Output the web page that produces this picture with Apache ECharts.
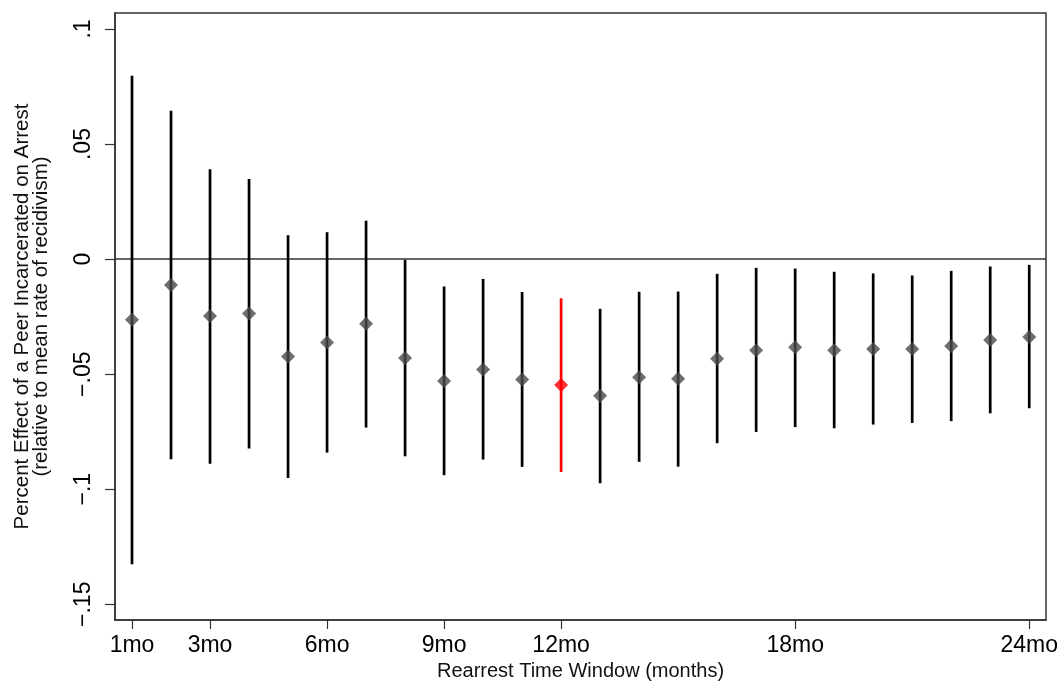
<!DOCTYPE html>
<html>
<head>
<meta charset="utf-8">
<script src="https://cdn.jsdelivr.net/npm/echarts@6/dist/echarts.min.js"></script>
<style>
  html, body { margin: 0; padding: 0; background: #fff; }
  #chart { width: 1062px; height: 682px; }
</style>
</head>
<body>
<div id="chart"></div>
<script>
// Rearrest window in months
const months = [1,2,3,4,5,6,7,8,9,10,11,12,13,14,15,16,17,18,19,20,21,22,23,24];
// Point estimates
const estimate = [-0.0264,-0.0113,-0.0247,-0.0236,-0.0423,-0.0362,-0.0281,-0.0430,-0.0530,-0.0480,-0.0523,-0.0547,
                  -0.0594,-0.0513,-0.0520,-0.0433,-0.0396,-0.0383,-0.0396,-0.0391,-0.0391,-0.0378,-0.0351,-0.0338];
// Confidence interval bounds
const ciLow  = [-0.1326,-0.0870,-0.0889,-0.0823,-0.0951,-0.0841,-0.0732,-0.0857,-0.0939,-0.0871,-0.0903,-0.0925,
                -0.0974,-0.0881,-0.0902,-0.0800,-0.0751,-0.0730,-0.0735,-0.0719,-0.0712,-0.0704,-0.0670,-0.0648];
const ciHigh = [0.0797,0.0645,0.0391,0.0348,0.0104,0.0117,0.0167,-0.0003,-0.0119,-0.0086,-0.0143,-0.0170,
                -0.0216,-0.0142,-0.0141,-0.0064,-0.0038,-0.0041,-0.0055,-0.0062,-0.0071,-0.0051,-0.0032,-0.0025];
// Highlighted window
const highlightMonth = 12;
// Axis ticks
const xTicks = [1,3,6,9,12,18,24];
const yTicks = [-0.15,-0.10,-0.05,0,0.05,0.10];

const BLACK = '#000';
const GREY = '#4a4a4a';
const RED = '#ff0000';
const FONT = '"Liberation Sans", Arial, Helvetica, sans-serif';

function yLabel(v) {
  if (Math.abs(v) < 1e-9) return '0';
  let s = Math.abs(v).toFixed(2).replace(/0+$/, '').replace(/^0/, '');
  return (v < 0 ? '\u2212' : '') + s;
}

const barData = months.map((m, i) => [m, ciLow[i], ciHigh[i]]);
const pointData = months.map((m, i) => ({
  value: [m, estimate[i]],
  itemStyle: { color: m === highlightMonth ? RED : GREY }
}));

const chart = echarts.init(document.getElementById('chart'), null, { renderer: 'canvas' });
chart.setOption({
  animation: false,
  backgroundColor: '#fff',
  grid: {
    left: 115, right: 16, top: 13, bottom: 62,
    containLabel: false, outerBoundsMode: 'none',
    show: true, borderColor: '#333', borderWidth: 1.5, backgroundColor: 'transparent'
  },
  xAxis: {
    type: 'value',
    min: 0.564, max: 24.43,
    name: 'Rearrest Time Window (months)',
    nameLocation: 'middle', nameGap: 40,
    nameTextStyle: { fontFamily: FONT, fontSize: 20, color: '#111' },
    axisLine: { show: true, onZero: false, lineStyle: { color: '#333', width: 1.5 } },
    axisTick: { show: true, length: 9, customValues: xTicks, lineStyle: { color: '#333', width: 1.2 } },
    axisLabel: { customValues: xTicks, formatter: v => v + 'mo', fontFamily: FONT, fontSize: 23, color: BLACK, margin: 14 },
    splitLine: { show: false }
  },
  yAxis: {
    type: 'value',
    min: -0.15683, max: 0.10696,
    name: 'Percent Effect of a Peer Incarcerated on Arrest\n(relative to mean rate of recidivism)',
    nameLocation: 'middle', nameGap: 64, nameRotate: 90,
    nameTextStyle: { fontFamily: FONT, fontSize: 20.5, color: '#111', lineHeight: 19, align: 'center' },
    axisLine: { show: true, onZero: false, lineStyle: { color: '#333', width: 1.5 } },
    axisTick: { show: true, length: 10, customValues: yTicks, lineStyle: { color: '#333', width: 1.2 } },
    axisLabel: { customValues: yTicks, formatter: yLabel, rotate: 90, fontFamily: FONT, fontSize: 23, color: BLACK, margin: 20 },
    splitLine: { show: false }
  },
  series: [
    {
      type: 'custom',
      data: barData,
      z: 2,
      renderItem: function (params, api) {
        const m = api.value(0);
        const p1 = api.coord([m, api.value(1)]);
        const p2 = api.coord([m, api.value(2)]);
        return {
          type: 'line',
          shape: { x1: p1[0], y1: p1[1], x2: p2[0], y2: p2[1] },
          style: { stroke: m === highlightMonth ? RED : BLACK, lineWidth: 2.7 }
        };
      },
      encode: { x: 0, y: [1, 2] }
    },
    {
      type: 'scatter',
      data: pointData,
      symbol: 'diamond',
      symbolSize: [14, 14],
      z: 3,
      markLine: {
        silent: true,
        symbol: ['none', 'none'],
        label: { show: false },
        lineStyle: { color: '#333', width: 1.6, type: 'solid' },
        data: [{ yAxis: 0 }],
        z: 1
      }
    }
  ]
});
</script>
</body>
</html>
